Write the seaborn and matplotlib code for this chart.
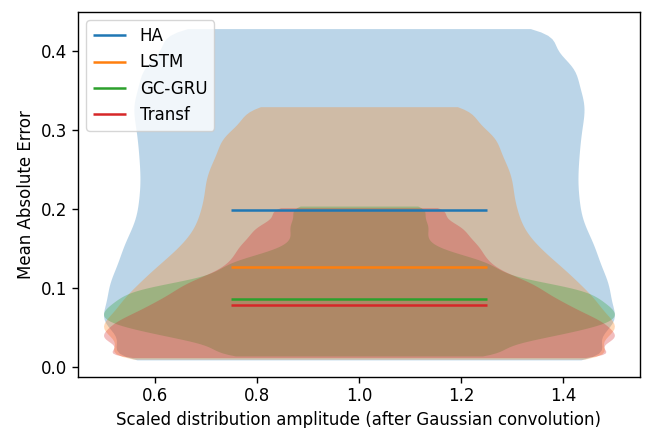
import matplotlib
matplotlib.use("Agg")
import matplotlib.pyplot as plt
import numpy as np
import seaborn as sns

models = ["HA", "LSTM", "GC-GRU", "Transf"]
colors = ["#1f77b4", "#ff7f0e", "#2ca02c", "#d62728"]

# MAE bins per model and number of samples in each bin
ha_mae = [0.009, 0.029, 0.049, 0.069, 0.089, 0.109, 0.129, 0.149, 0.169, 0.189, 0.209,
          0.229, 0.249, 0.269, 0.289, 0.309, 0.329, 0.349, 0.369, 0.389, 0.409, 0.429]
ha_counts = [173, 45, 123, 93, 100, 99, 93, 94, 90, 86, 87,
             85, 86, 86, 87, 87, 90, 88, 81, 97, 45, 127]

lstm_mae = [0.010, 0.026, 0.042, 0.058, 0.074, 0.090, 0.106, 0.122, 0.138, 0.154, 0.170,
            0.186, 0.202, 0.218, 0.234, 0.250, 0.266, 0.282, 0.298, 0.314, 0.330]
lstm_counts = [179, 41, 128, 92, 97, 92, 86, 82, 75, 70, 65,
               63, 62, 60, 61, 59, 57, 52, 61, 28, 71]

gru_mae = [0.014, 0.024, 0.034, 0.044, 0.054, 0.064, 0.074, 0.084, 0.094, 0.104,
           0.114, 0.124, 0.134, 0.144, 0.154, 0.164, 0.174, 0.184, 0.194, 0.204]
gru_counts = [91, 33, 76, 79, 103, 102, 103, 93, 96, 84,
              53, 56, 54, 37, 27, 26, 27, 31, 16, 44]

transf_mae = [0.012, 0.022, 0.032, 0.042, 0.052, 0.062, 0.072, 0.082, 0.092, 0.102,
              0.112, 0.122, 0.132, 0.142, 0.152, 0.162, 0.172, 0.182, 0.192, 0.202]
transf_counts = [177, 48, 121, 95, 101, 94, 85, 82, 73, 72,
                 65, 54, 52, 48, 49, 44, 40, 47, 14, 62]

# mean MAE shown as horizontal lines
mean_mae = [0.199, 0.127, 0.086, 0.078]
# kernel bandwidth for each violin
kde_bw = [0.02, 0.016, 0.01, 0.01]

values = [ha_mae, lstm_mae, gru_mae, transf_mae]
counts = [ha_counts, lstm_counts, gru_counts, transf_counts]

plt.rcParams.update({
    "font.size": 12,
    "axes.linewidth": 1.0,
    "xtick.major.size": 4.2,
    "ytick.major.size": 4.2,
    "xtick.major.width": 1.0,
    "ytick.major.width": 1.0,
})

fig = plt.figure(figsize=(6.57, 4.28), dpi=100)
ax = fig.add_axes([0.1187, 0.1199, 0.8553, 0.8520])

for name, col, vals, cnt, m, bw in zip(models, colors, values, counts, mean_mae, kde_bw):
    samples = np.repeat(vals, cnt).astype(float)
    sns.violinplot(
        x=np.ones(len(samples)), y=samples,
        native_scale=True, orient="x", width=1, cut=0, inner=None,
        bw_method=bw / np.std(samples, ddof=1), density_norm="width",
        color=col, saturation=1, linewidth=0, alpha=0.3, ax=ax,
    )
    ax.hlines(m, 0.75, 1.25, colors=col, linewidth=1.8, label=name)

ax.set_xlim(0.45, 1.55)
ax.set_ylim(-0.0123, 0.450)
ax.set_xlabel("Scaled distribution amplitude (after Gaussian convolution)")
ax.set_ylabel("Mean Absolute Error")
ax.legend(loc="upper left")

fig.savefig("out.png", dpi=100)
